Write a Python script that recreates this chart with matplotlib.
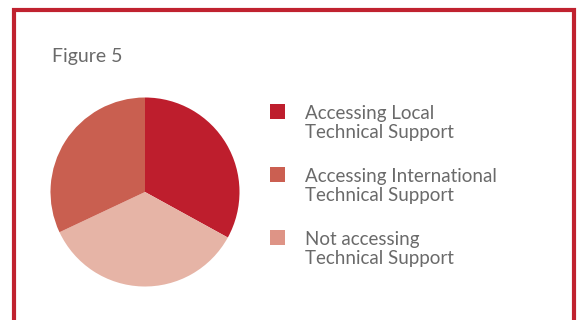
import matplotlib
matplotlib.use("Agg")
import matplotlib.pyplot as plt
from matplotlib.patches import Rectangle

# Pie shares (%)
labels = [
    "Accessing Local\nTechnical Support",
    "Accessing International\nTechnical Support",
    "Not accessing\nTechnical Support",
]
shares = [33, 32, 35]
pie_colors = ["#BE1E2D", "#C95F50", "#E6B4A6"]
legend_colors = ["#BE1E2D", "#CB5F51", "#DE9486"]

W, H = 578, 320
plt.rcParams["font.family"] = ["Lato", "DejaVu Sans"]
text_color = "#6a6a6a"

fig = plt.figure(figsize=(W / 100, H / 100), dpi=100)

# red frame (open at the bottom)
frame_color = "#C0222F"
fig.add_artist(plt.Line2D([14 / W, 14 / W, 573.5 / W, 573.5 / W],
                          [0, 1 - 9.5 / H, 1 - 9.5 / H, 0],
                          transform=fig.transFigure, color=frame_color,
                          linewidth=3, solid_joinstyle="miter"))

fig.text(52 / W, 1 - 62.3 / H, "Figure 5", fontsize=14, color=text_color,
         va="baseline", ha="left")

# pie: clockwise from 12 o'clock -> local, not accessing, international
cx, cy, r = 145, 192, 94.5
ax = fig.add_axes([(cx - r) / W, 1 - (cy + r) / H, 2 * r / W, 2 * r / H])
order = [0, 2, 1]
ax.pie([shares[i] for i in order], colors=[pie_colors[i] for i in order],
       startangle=90, counterclock=False, radius=1,
       wedgeprops=dict(linewidth=0))
ax.set_xlim(-1, 1)
ax.set_ylim(-1, 1)
ax.set_aspect("equal")
ax.axis("off")

# legend
first_baseline = 119
entry_gap = 63
line_gap = 18.7
for i, (label, color) in enumerate(zip(labels, legend_colors)):
    base = first_baseline + i * entry_gap
    fig.add_artist(Rectangle((270 / W, 1 - (base - 0.5) / H), 15 / W, 15 / H,
                             transform=fig.transFigure, facecolor=color,
                             edgecolor="none"))
    for j, line in enumerate(label.split("\n")):
        fig.text(305 / W, 1 - (base + j * line_gap) / H, line, fontsize=13.5,
                 color=text_color, va="baseline", ha="left")

fig.savefig("out.png", dpi=100)
